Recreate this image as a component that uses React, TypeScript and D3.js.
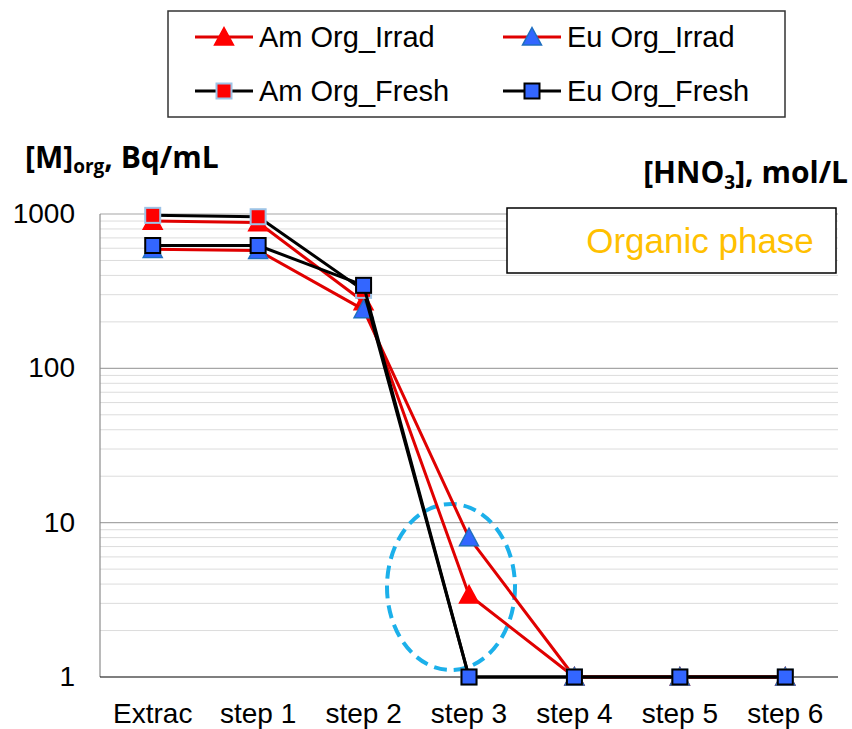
import React, { useEffect, useRef } from 'react';
import * as d3 from 'd3';

const categories = ['Extrac', 'step 1', 'step 2', 'step 3', 'step 4', 'step 5', 'step 6'];
const amIrrad = [900, 880, 270, 3.4, 1, 1, 1];
const euIrrad = [590, 580, 240, 8, 1, 1, 1];
const amFresh = [980, 960, 320, 1, 1, 1, 1];
const euFresh = [625, 625, 345, 1, 1, 1, 1];
const yTicks = [1, 10, 100, 1000];

const seriesDefs = [
  { name: 'Am Org_Irrad', values: amIrrad, line: '#e00000', marker: 'tri', fill: '#ff0000', stroke: '#ff0000' },
  { name: 'Eu Org_Irrad', values: euIrrad, line: '#e00000', marker: 'tri', fill: '#3366ff', stroke: '#1f6fc0' },
  { name: 'Am Org_Fresh', values: amFresh, line: '#000000', marker: 'sq', fill: '#ff0000', stroke: '#9dc3e6' },
  { name: 'Eu Org_Fresh', values: euFresh, line: '#000000', marker: 'sq', fill: '#3366ff', stroke: '#000000' },
];

const W = 852, H = 729;
const left = 100, right = 838, top = 214, bottom = 677;
const font = 'Liberation Sans, Arial, sans-serif';
const boldFont = 'Open Sans, Liberation Sans, sans-serif';

function drawMarker(g: any, type: string, x: number, y: number, fill: string, stroke: string) {
  if (type === 'tri') {
    const s = 9.5;
    g.append('path')
      .attr('d', `M${x},${y - s} L${x + s},${y + s * 0.85} L${x - s},${y + s * 0.85} Z`)
      .attr('fill', fill).attr('stroke', stroke).attr('stroke-width', 1.5);
  } else {
    const s = 7.5;
    g.append('rect')
      .attr('x', x - s).attr('y', y - s).attr('width', 2 * s).attr('height', 2 * s)
      .attr('fill', fill).attr('stroke', stroke).attr('stroke-width', 2);
  }
}

export default function App() {
  const ref = useRef<SVGSVGElement>(null);

  useEffect(() => {
    const svg = d3.select(ref.current);
    svg.selectAll('*').remove();

    const x = d3.scaleBand().domain(categories).range([left, right]);
    const y = d3.scaleLog().domain([1, 1000]).range([bottom, top]);
    const cx = (c: string) => (x(c) as number) + x.bandwidth() / 2;

    // gridlines
    const minor: number[] = [];
    [1, 10, 100].forEach((d) => {
      for (let k = 2; k <= 9; k++) minor.push(d * k);
    });
    svg.append('g').selectAll('line').data(minor).enter().append('line')
      .attr('x1', left).attr('x2', right)
      .attr('y1', (d) => y(d)).attr('y2', (d) => y(d))
      .attr('stroke', '#dcdcdc').attr('stroke-width', 1);
    svg.append('g').selectAll('line').data([10, 100, 1000]).enter().append('line')
      .attr('x1', left).attr('x2', right)
      .attr('y1', (d) => y(d)).attr('y2', (d) => y(d))
      .attr('stroke', '#a6a6a6').attr('stroke-width', 1.2);

    // axes
    svg.append('line').attr('x1', left).attr('x2', left).attr('y1', top).attr('y2', bottom)
      .attr('stroke', '#8c8c8c').attr('stroke-width', 1.2);
    svg.append('line').attr('x1', left).attr('x2', right).attr('y1', bottom).attr('y2', bottom)
      .attr('stroke', '#000').attr('stroke-width', 1.2);

    svg.append('g').selectAll('text').data(yTicks).enter().append('text')
      .attr('x', 75).attr('y', (d) => y(d) + 9)
      .attr('text-anchor', 'end').attr('font-family', font).attr('font-size', 28)
      .text((d) => String(d));

    svg.append('g').selectAll('text').data(categories).enter().append('text')
      .attr('x', (d) => cx(d)).attr('y', 723)
      .attr('text-anchor', 'middle').attr('font-family', font).attr('font-size', 28)
      .text((d) => d);

    // dashed ellipse
    svg.append('ellipse')
      .attr('cx', 451).attr('cy', 587).attr('rx', 64).attr('ry', 83)
      .attr('fill', 'none').attr('stroke', '#1cb0ea').attr('stroke-width', 4)
      .attr('stroke-dasharray', '13 7');

    // series
    const line = d3.line<number>()
      .x((_, i) => cx(categories[i]))
      .y((d) => y(d));
    seriesDefs.forEach((s) => {
      const g = svg.append('g');
      g.append('path').attr('d', line(s.values) as string)
        .attr('fill', 'none').attr('stroke', s.line).attr('stroke-width', 3)
        .attr('stroke-linejoin', 'round');
      s.values.forEach((v, i) => drawMarker(g, s.marker, cx(categories[i]), y(v), s.fill, s.stroke));
    });

    // Organic phase box
    svg.append('rect').attr('x', 507).attr('y', 208).attr('width', 329).attr('height', 65)
      .attr('fill', '#fff').attr('stroke', '#000').attr('stroke-width', 1.5);
    svg.append('text').attr('x', 700).attr('y', 253).attr('text-anchor', 'middle')
      .attr('font-family', font).attr('font-size', 35).attr('fill', '#ffc000')
      .text('Organic phase');

    // titles
    const t1 = svg.append('text').attr('x', 25).attr('y', 168)
      .attr('font-family', boldFont).attr('font-size', 30).attr('font-weight', 'bold');
    t1.append('tspan').text('[M]');
    t1.append('tspan').attr('font-size', 19).attr('dy', 5).text('org');
    t1.append('tspan').attr('dy', -5).text(', Bq/mL');

    const t2 = svg.append('text').attr('x', 848).attr('y', 183).attr('text-anchor', 'end')
      .attr('font-family', boldFont).attr('font-size', 30).attr('font-weight', 'bold');
    t2.append('tspan').text('[HNO');
    t2.append('tspan').attr('font-size', 19).attr('dy', 6).text('3');
    t2.append('tspan').attr('dy', -6).text('], mol/L');

    // legend
    svg.append('rect').attr('x', 168).attr('y', 11).attr('width', 617).attr('height', 106)
      .attr('fill', '#fff').attr('stroke', '#333').attr('stroke-width', 1.5);
    const legPos = [
      { lx: 195, ly: 37 },
      { lx: 503, ly: 37 },
      { lx: 195, ly: 91 },
      { lx: 503, ly: 91 },
    ];
    seriesDefs.forEach((s, i) => {
      const p = legPos[i];
      const g = svg.append('g');
      g.append('line').attr('x1', p.lx).attr('x2', p.lx + 58).attr('y1', p.ly).attr('y2', p.ly)
        .attr('stroke', s.line).attr('stroke-width', 3);
      drawMarker(g, s.marker, p.lx + 29, p.ly, s.fill, s.stroke);
      g.append('text').attr('x', p.lx + 64).attr('y', p.ly + 10)
        .attr('font-family', font).attr('font-size', 29).text(s.name);
    });
  }, []);

  return <svg ref={ref} width={W} height={H} style={{ display: 'block', position: 'absolute', left: 0, top: 0 }} />;
}
